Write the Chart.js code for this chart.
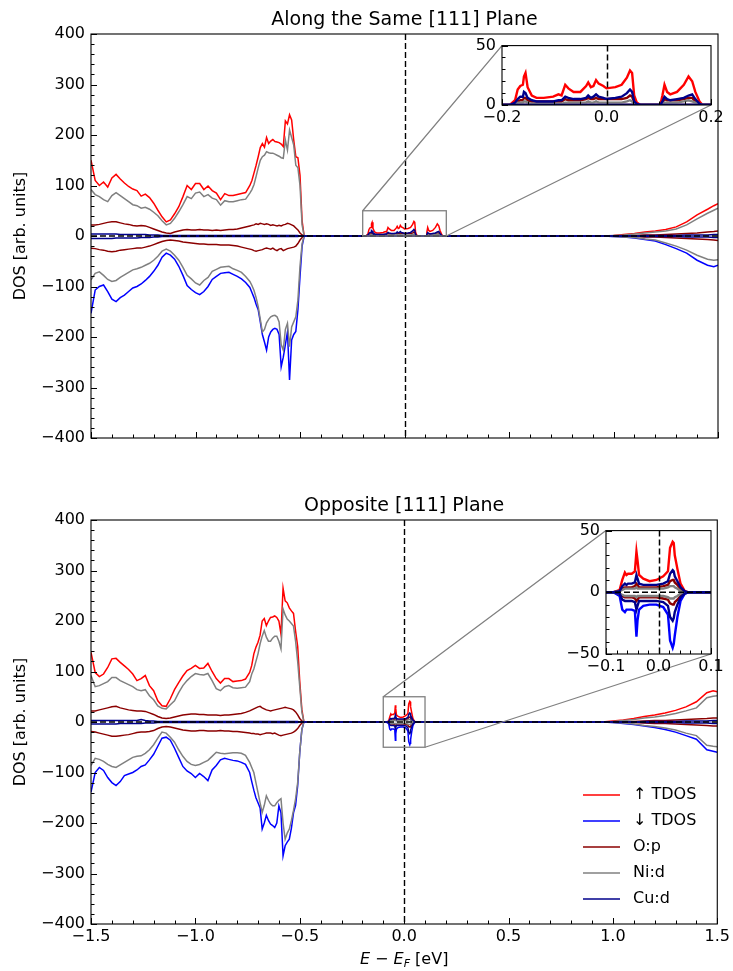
<!DOCTYPE html>
<html>
<head>
<meta charset="utf-8">
<title>DOS</title>
<script src="https://cdn.jsdelivr.net/npm/chart.js"></script>
<style>
  body { margin: 0; background: #fff; }
  #wrap { position: relative; width: 733px; height: 971px; overflow: hidden; }
  #wrap canvas { position: absolute; }
</style>
</head>
<body>
<div id="wrap">
  <canvas id="sameMain" width="733" height="487" style="left:0px;top:0px;z-index:1"></canvas>
  <canvas id="oppMain" width="733" height="485" style="left:0px;top:486px;z-index:1"></canvas>
  <canvas id="sameInset" width="283" height="120" style="left:450px;top:30px;z-index:2"></canvas>
  <canvas id="oppInset" width="183" height="170" style="left:550px;top:515px;z-index:2"></canvas>
</div>
<script>
const FONT = 'DejaVu Sans';
const RED = '#ff0000', BLUE = '#0000ff', OP = '#8b0000', NI = '#808080', CU = '#00008b';

// energy grids (eV)
const eValence = [
  -1.50, -1.48, -1.46, -1.44, -1.42, -1.40, -1.38, -1.36, -1.34, -1.32,
  -1.30, -1.28, -1.26, -1.24, -1.22, -1.20, -1.18, -1.16, -1.14, -1.12,
  -1.10, -1.08, -1.06, -1.04, -1.02, -1.00, -0.98, -0.96, -0.94, -0.92,
  -0.90, -0.88, -0.86, -0.84, -0.82, -0.80, -0.78, -0.76, -0.74, -0.73,
  -0.72, -0.71, -0.70, -0.69, -0.68, -0.67, -0.66, -0.65, -0.64, -0.63,
  -0.62, -0.61, -0.60, -0.59, -0.58, -0.57, -0.56, -0.55, -0.54, -0.53,
  -0.52, -0.51, -0.50, -0.49, -0.48
];
const eGapSame = [
  -0.190, -0.185, -0.175, -0.170, -0.165, -0.160, -0.158, -0.155, -0.151, -0.143,
  -0.134, -0.120, -0.102, -0.092, -0.086, -0.079, -0.073, -0.063, -0.050, -0.039,
  -0.035, -0.030, -0.025, -0.020, -0.015, -0.006, 0.000, 0.017, 0.029, 0.039,
  0.045, 0.049, 0.053, 0.058, 0.065, 0.103, 0.107, 0.111, 0.116, 0.122,
  0.135, 0.148, 0.157, 0.164, 0.170, 0.178, 0.184, 0.190
];
const eGapOpp = [
  -0.095, -0.086, -0.074, -0.069, -0.064, -0.061, -0.058, -0.051, -0.045, -0.042,
  -0.040, -0.037, -0.029, -0.017, -0.004, 0.009, 0.018, 0.022, 0.027, 0.029,
  0.031, 0.036, 0.042, 0.050, 0.057, 0.070
];
const eCond = [0.95, 1.00, 1.05, 1.10, 1.15, 1.20, 1.25, 1.30, 1.35, 1.40, 1.45, 1.48, 1.50];

// Along the same [111] plane: valence band
const sameTdosUp = [
  150, 110, 100, 107, 97, 115, 122, 113, 105, 98,
  93, 90, 79, 83, 76, 65, 51, 38, 28, 32,
  44, 58, 78, 100, 92, 104, 104, 92, 99, 90,
  85, 72, 84, 80, 80, 82, 84, 86, 100, 110,
  125, 140, 157, 175, 183, 176, 195, 183, 188, 191,
  187, 186, 185, 182, 177, 228, 222, 240, 230, 190,
  157, 155, 120, 30, 0
];
const sameTdosDn = [
  -153, -107, -100, -97, -110, -125, -130, -122, -117, -110,
  -103, -100, -95, -88, -80, -70, -58, -42, -34, -38,
  -46, -60, -78, -98, -106, -112, -116, -110, -100, -86,
  -80, -74, -73, -72, -76, -80, -85, -92, -102, -112,
  -122, -135, -146, -170, -195, -210, -226, -200, -190, -185,
  -183, -185, -195, -259, -240, -215, -190, -285, -206, -195,
  -189, -146, -80, -20, 0
];
const sameOpUp = [
  22, 22, 23, 25, 27, 28, 28, 26, 24, 23,
  21, 20, 21, 20, 17, 14, 11, 8, 6, 5,
  8, 10, 12, 13, 12, 12, 13, 12, 12, 11,
  12, 11, 12, 13, 13, 14, 16, 18, 20, 21,
  22, 24, 23, 25, 24, 23, 24, 23, 21, 22,
  21, 20, 21, 20, 22, 23, 25, 24, 22, 20,
  16, 12, 6, 2, 0
];
const sameOpDn = [
  -24, -25, -27, -28, -30, -31, -30, -28, -27, -26,
  -25, -24, -24, -22, -20, -17, -14, -11, -9, -8,
  -9, -10, -12, -13, -14, -15, -16, -16, -17, -17,
  -17, -18, -18, -18, -19, -20, -22, -24, -26, -27,
  -29, -30, -29, -28, -27, -25, -24, -25, -26, -24,
  -27, -29, -26, -25, -29, -27, -25, -24, -23, -22,
  -20, -15, -8, -3, 0
];
const sameNiUp = [
  92, 82, 78, 72, 68, 80, 86, 80, 74, 68,
  62, 60, 55, 57, 53, 47, 40, 30, 22, 25,
  35, 48, 62, 78, 74, 85, 87, 78, 82, 75,
  72, 61, 70, 68, 68, 70, 72, 73, 85, 92,
  102, 118, 135, 150, 157, 160, 167, 165, 164, 164,
  162, 160, 158, 155, 154, 190, 170, 210, 195, 180,
  140, 135, 100, 22, 0
];
const sameNiDn = [
  -87, -74, -71, -78, -86, -90, -88, -82, -77, -72,
  -67, -65, -62, -58, -54, -48, -40, -30, -26, -30,
  -38, -48, -62, -78, -85, -93, -97, -88, -82, -70,
  -66, -62, -61, -60, -65, -68, -72, -80, -90, -98,
  -108, -122, -140, -165, -190, -185, -172, -165, -160, -158,
  -157, -160, -170, -215, -226, -185, -173, -219, -180, -170,
  -160, -127, -60, -15, 0
];
const sameCuUp = [
  4, 4, 4, 4, 4, 4, 4, 3, 3, 3,
  3, 3, 3, 3, 2, 2, 2, 1, 1, 1,
  1, 1, 1, 1, 1, 1, 1, 1, 1, 1,
  1, 1, 1, 1, 1, 1, 1, 1, 1, 1,
  1, 1, 1, 1, 1, 1, 1, 1, 1, 1,
  1, 1, 1, 1, 1, 1, 1, 1, 1, 1,
  1, 1, 0, 0, 0
];
const sameCuDn = [
  -5, -5, -5, -5, -5, -5, -4, -4, -4, -4,
  -4, -4, -3, -3, -3, -2, -2, -1, -1, -1,
  -1, -1, -1, -1, -1, -1, -1, -1, -1, -1,
  -1, -1, -1, -1, -1, -1, -1, -1, -1, -1,
  -1, -1, -1, -1, -1, -1, -1, -1, -1, -1,
  -1, -1, -1, -1, -1, -1, -1, -1, -1, -1,
  -1, -1, 0, 0, 0
];
// in-gap states (spin up only)
const sameGapTdos = [
  0, 0, 4, 13, 16, 17, 24, 27, 15, 8,
  6, 6, 7, 9, 8, 17, 14, 11, 11, 16,
  19, 15, 16, 21, 18, 16, 14, 15, 17, 23,
  29, 27, 8, 2, 0, 0, 8, 17, 11, 9,
  11, 17, 24, 20, 11, 3, 0, 0
];
const sameGapOp = [
  0, 0, 1, 3, 4, 4, 6, 6, 4, 3,
  3, 3, 3, 3, 3, 5, 4, 4, 4, 5,
  6, 5, 5, 6, 5, 5, 5, 5, 5, 6,
  8, 7, 2, 0, 0, 0, 2, 5, 4, 4,
  4, 5, 6, 6, 3, 1, 0, 0
];
const sameGapNi = [
  0, 0, 1, 2, 2, 2, 3, 3, 2, 1,
  1, 1, 1, 1, 1, 2, 2, 2, 2, 2,
  3, 2, 2, 3, 2, 2, 2, 2, 2, 3,
  4, 3, 1, 0, 0, 0, 1, 2, 2, 2,
  2, 3, 4, 3, 2, 1, 0, 0
];
const sameGapCu = [
  0, 0, 2, 5, 7, 7, 11, 10, 6, 4,
  3, 3, 3, 4, 4, 7, 6, 5, 5, 6,
  8, 6, 7, 9, 7, 6, 5, 6, 7, 10,
  13, 11, 3, 1, 0, 0, 3, 7, 5, 4,
  5, 6, 8, 9, 5, 1, 0, 0
];
// conduction band edge
const sameCondTdosUp = [0, 1, 3, 5, 8, 10, 13, 18, 28, 42, 53, 60, 64];
const sameCondTdosDn = [0, -1, -2, -4, -7, -10, -17, -25, -34, -48, -58, -61, -58];
const sameCondOpUp = [0, 0, 1, 1, 2, 2, 3, 4, 5, 6, 8, 9, 10];
const sameCondOpDn = [0, 0, -1, -1, -2, -2, -3, -4, -5, -6, -7, -8, -9];
const sameCondNiUp = [0, 1, 2, 4, 6, 8, 10, 14, 22, 34, 45, 51, 55];
const sameCondNiDn = [0, -1, -2, -3, -6, -8, -14, -20, -28, -38, -46, -48, -47];
const sameCondCuUp = [0, 0, 0, 0, 1, 1, 1, 1, 2, 2, 2, 3, 3];
const sameCondCuDn = [0, 0, 0, 0, -1, -1, -1, -1, -2, -2, -2, -3, -3];

// Opposite [111] plane: valence band
const oppTdosUp = [
  138, 98, 90, 95, 108, 125, 126, 118, 111, 104,
  95, 82, 86, 92, 72, 62, 42, 32, 31, 46,
  64, 78, 91, 102, 106, 112, 106, 107, 116, 100,
  86, 77, 86, 86, 80, 81, 82, 85, 98, 112,
  135, 148, 158, 172, 200, 205, 191, 200, 207, 208,
  210, 207, 200, 174, 265, 240, 236, 226, 220, 215,
  180, 150, 80, 25, 0
];
const oppTdosDn = [
  -139, -100, -90, -96, -110, -120, -126, -118, -106, -103,
  -100, -95, -88, -85, -75, -64, -48, -32, -30, -36,
  -52, -70, -88, -97, -102, -110, -102, -108, -116, -95,
  -86, -75, -72, -74, -76, -77, -80, -84, -100, -118,
  -135, -150, -160, -170, -212, -200, -185, -195, -202, -205,
  -209, -200, -166, -180, -265, -245, -238, -232, -210, -180,
  -165, -126, -60, -15, 0
];
const oppOpUp = [
  22, 22, 24, 26, 28, 30, 31, 28, 26, 24,
  23, 22, 22, 21, 18, 15, 11, 8, 7, 8,
  10, 12, 14, 15, 16, 16, 15, 15, 14, 14,
  14, 13, 14, 14, 15, 16, 17, 19, 22, 24,
  26, 28, 30, 31, 28, 26, 24, 23, 22, 23,
  24, 25, 26, 27, 28, 29, 28, 27, 26, 24,
  20, 14, 7, 2, 0
];
const oppOpDn = [
  -19, -20, -22, -24, -26, -28, -28, -27, -26, -25,
  -23, -21, -20, -20, -19, -17, -13, -10, -9, -10,
  -12, -14, -16, -17, -18, -18, -17, -17, -18, -18,
  -18, -17, -18, -18, -19, -19, -20, -21, -22, -23,
  -23, -24, -24, -25, -24, -23, -22, -22, -22, -23,
  -22, -24, -26, -27, -26, -25, -24, -23, -22, -20,
  -17, -13, -7, -2, 0
];
const oppNiUp = [
  92, 70, 72, 76, 80, 88, 88, 82, 78, 74,
  70, 64, 62, 64, 52, 44, 32, 27, 26, 34,
  42, 58, 72, 82, 90, 96, 94, 93, 96, 82,
  66, 62, 70, 72, 68, 67, 68, 69, 80, 95,
  105, 120, 135, 155, 170, 181, 168, 160, 160, 166,
  170, 170, 160, 145, 224, 212, 204, 200, 195, 190,
  160, 120, 70, 20, 0
];
const oppNiDn = [
  -86, -72, -74, -78, -84, -88, -90, -85, -80, -75,
  -70, -68, -67, -62, -55, -45, -32, -20, -22, -30,
  -40, -55, -68, -78, -84, -86, -84, -80, -76, -68,
  -60, -62, -63, -62, -61, -61, -62, -66, -80, -90,
  -100, -120, -140, -160, -179, -165, -146, -155, -162, -166,
  -166, -160, -155, -152, -200, -232, -220, -212, -195, -175,
  -152, -120, -60, -15, 0
];
const oppCuUp = [
  3, 3, 3, 3, 3, 3, 3, 3, 3, 3,
  3, 3, 5, 3, 2, 2, 1, 1, 1, 1,
  1, 1, 1, 1, 1, 1, 1, 1, 1, 1,
  1, 1, 1, 1, 1, 1, 1, 1, 1, 1,
  1, 1, 1, 1, 1, 1, 1, 1, 1, 1,
  1, 1, 1, 1, 1, 1, 1, 1, 1, 1,
  1, 1, 0, 0, 0
];
const oppCuDn = [
  -4, -4, -4, -4, -4, -4, -4, -3, -3, -3,
  -3, -3, -3, -2, -2, -2, -1, -1, -1, -1,
  -1, -1, -1, -1, -1, -1, -1, -1, -1, -1,
  -1, -1, -1, -1, -1, -1, -1, -1, -1, -1,
  -1, -1, -1, -1, -1, -1, -1, -1, -1, -1,
  -1, -1, -1, -1, -1, -1, -1, -1, -1, -1,
  -1, -1, 0, 0, 0
];
// in-gap states, both spins
const oppGapTdosUp = [0, 0, 2, 10, 16, 14, 15, 15, 17, 33, 26, 14, 11, 9, 10, 13, 17, 36, 41, 40, 30, 19, 7, 1, 0, 0];
const oppGapTdosDn = [0, 0, -3, -14, -16, -14, -14, -14, -15, -36, -23, -14, -11, -10, -10, -12, -18, -39, -45, -42, -35, -20, -7, -1, 0, 0];
const oppGapOpUp = [0, 0, 1, 3, 4, 4, 4, 4, 5, 7, 6, 4, 4, 4, 4, 5, 6, 9, 10, 10, 8, 6, 3, 0, 0, 0];
const oppGapOpDn = [0, 0, -1, -3, -4, -4, -4, -4, -5, -7, -6, -4, -4, -4, -4, -5, -6, -9, -10, -10, -8, -6, -3, 0, 0, 0];
const oppGapNiUp = [0, 0, 1, 2, 3, 3, 3, 3, 3, 4, 3, 3, 3, 3, 3, 3, 4, 5, 5, 5, 4, 3, 1, 0, 0, 0];
const oppGapNiDn = [0, 0, -1, -2, -3, -3, -3, -3, -3, -4, -3, -3, -3, -3, -3, -3, -4, -5, -5, -5, -4, -3, -1, 0, 0, 0];
const oppGapCuUp = [0, 0, 1, 5, 7, 6, 7, 7, 8, 14, 11, 7, 6, 6, 6, 7, 9, 15, 18, 17, 13, 9, 4, 1, 0, 0];
const oppGapCuDn = [0, 0, -1, -6, -7, -7, -7, -7, -8, -14, -11, -7, -7, -7, -7, -8, -11, -20, -23, -21, -16, -10, -4, -1, 0, 0];
// conduction band edge
const oppCondTdosUp = [0, 2, 4, 7, 11, 14, 18, 23, 30, 40, 58, 62, 60];
const oppCondTdosDn = [0, -1, -3, -5, -8, -11, -15, -20, -27, -34, -55, -58, -60];
const oppCondOpUp = [0, 0, 1, 1, 2, 3, 3, 4, 5, 6, 7, 8, 8];
const oppCondOpDn = [0, 0, -1, -1, -2, -3, -3, -4, -5, -6, -7, -8, -8];
const oppCondNiUp = [0, 1, 3, 5, 8, 10, 13, 17, 22, 28, 48, 51, 52];
const oppCondNiDn = [0, -1, -2, -4, -7, -9, -12, -16, -22, -27, -46, -48, -49];
const oppCondCuUp = [0, 0, 0, 0, 1, 1, 1, 1, 2, 2, 2, 3, 3];
const oppCondCuDn = [0, 0, 0, 0, -1, -1, -1, -1, -2, -2, -2, -3, -3];

// inset windows
const sameInsetX = [-0.2, 0.2], sameInsetY = [0, 50];
const oppInsetX = [-0.1, 0.1], oppInsetY = [-50, 50];

const legendLabels = ['\u2191 TDOS', '\u2193 TDOS', 'O:p', 'Ni:d', 'Cu:d'];
const legendColors = [RED, BLUE, OP, NI, CU];

function pts(e, v) {
  return e.map((x, i) => ({ x: x, y: v[i] }));
}

const sameCurves = [
  { color: RED, data: [...pts(eValence, sameTdosUp), ...pts(eGapSame, sameGapTdos), ...pts(eCond, sameCondTdosUp)] },
  { color: BLUE, data: [...pts(eValence, sameTdosDn), ...pts(eCond, sameCondTdosDn)] },
  { color: OP, data: [...pts(eValence, sameOpUp), ...pts(eGapSame, sameGapOp), ...pts(eCond, sameCondOpUp)] },
  { color: OP, data: [...pts(eValence, sameOpDn), ...pts(eCond, sameCondOpDn)] },
  { color: NI, data: [...pts(eValence, sameNiUp), ...pts(eGapSame, sameGapNi), ...pts(eCond, sameCondNiUp)] },
  { color: NI, data: [...pts(eValence, sameNiDn), ...pts(eCond, sameCondNiDn)] },
  { color: CU, data: [...pts(eValence, sameCuUp), ...pts(eGapSame, sameGapCu), ...pts(eCond, sameCondCuUp)] },
  { color: CU, data: [...pts(eValence, sameCuDn), ...pts(eCond, sameCondCuDn)] }
];

const oppCurves = [
  { color: RED, data: [...pts(eValence, oppTdosUp), ...pts(eGapOpp, oppGapTdosUp), ...pts(eCond, oppCondTdosUp)] },
  { color: BLUE, data: [...pts(eValence, oppTdosDn), ...pts(eGapOpp, oppGapTdosDn), ...pts(eCond, oppCondTdosDn)] },
  { color: OP, data: [...pts(eValence, oppOpUp), ...pts(eGapOpp, oppGapOpUp), ...pts(eCond, oppCondOpUp)] },
  { color: OP, data: [...pts(eValence, oppOpDn), ...pts(eGapOpp, oppGapOpDn), ...pts(eCond, oppCondOpDn)] },
  { color: NI, data: [...pts(eValence, oppNiUp), ...pts(eGapOpp, oppGapNiUp), ...pts(eCond, oppCondNiUp)] },
  { color: NI, data: [...pts(eValence, oppNiDn), ...pts(eGapOpp, oppGapNiDn), ...pts(eCond, oppCondNiDn)] },
  { color: CU, data: [...pts(eValence, oppCuUp), ...pts(eGapOpp, oppGapCuUp), ...pts(eCond, oppCondCuUp)] },
  { color: CU, data: [...pts(eValence, oppCuDn), ...pts(eGapOpp, oppGapCuDn), ...pts(eCond, oppCondCuDn)] }
];

function toDatasets(curves, width) {
  // later curves sit on top, like successive plot calls
  return curves.map((c, i) => ({
    data: c.data,
    borderColor: c.color,
    borderWidth: width,
    pointRadius: 0,
    tension: 0,
    fill: false,
    order: curves.length - i
  }));
}

function minus(s) {
  return s.replace('-', '\u2212');
}
function fmt1(v) {
  if (Math.abs(v) < 1e-9) v = 0;
  return minus(v.toFixed(1));
}
function fmt0(v) {
  return minus(String(Math.round(v)));
}

function axis(min, max, step, cb, fit, pad) {
  return {
    type: 'linear',
    min: min,
    max: max,
    grid: { display: false, drawTicks: false },
    border: { display: false },
    ticks: {
      stepSize: step, autoSkip: false, maxRotation: 0, padding: pad, color: '#000',
      font: { family: FONT, size: 16 }, callback: cb
    },
    afterFit: fit
  };
}

function drawTicks(ctx, scale, a, major, minor, horizontal) {
  const n0 = Math.ceil(scale.min / minor - 1e-6);
  const n1 = Math.floor(scale.max / minor + 1e-6);
  ctx.beginPath();
  for (let k = n0; k <= n1; k++) {
    const v = k * minor;
    const r = v / major;
    const len = Math.abs(r - Math.round(r)) < 1e-6 ? 6 : 3.5;
    const p = Math.round(scale.getPixelForValue(v)) + 0.5;
    if (horizontal) {
      ctx.moveTo(p, a.bottom);
      ctx.lineTo(p, a.bottom - len);
    } else {
      ctx.moveTo(a.left, p);
      ctx.lineTo(a.left + len, p);
    }
  }
  ctx.stroke();
}

function drawXLabel(ctx, cx, y) {
  const parts = [
    { t: 'E', f: 'italic 16px ' + FONT, dy: 0 },
    { t: ' \u2212 ', f: '16px ' + FONT, dy: 0 },
    { t: 'E', f: 'italic 16px ' + FONT, dy: 0 },
    { t: 'F', f: 'italic 11px ' + FONT, dy: 3 },
    { t: ' [eV]', f: '16px ' + FONT, dy: 0 }
  ];
  let total = 0;
  parts.forEach(p => { ctx.font = p.f; p.w = ctx.measureText(p.t).width; total += p.w; });
  let x = cx - total / 2;
  ctx.textAlign = 'left';
  ctx.textBaseline = 'alphabetic';
  parts.forEach(p => { ctx.font = p.f; ctx.fillText(p.t, x, y + p.dy); x += p.w; });
}

function framePlugin(cfg) {
  return {
    id: 'frame',
    beforeDatasetsDraw(chart) {
      if (!cfg.fill) return;
      const a = chart.chartArea, ctx = chart.ctx;
      ctx.save();
      ctx.fillStyle = '#fff';
      ctx.fillRect(a.left, a.top, a.right - a.left, a.bottom - a.top);
      ctx.restore();
    },
    afterDatasetsDraw(chart) {
      const ctx = chart.ctx, a = chart.chartArea;
      const xs = chart.scales.x, ys = chart.scales.y;
      ctx.save();

      // dashed lines at the Fermi level and at zero
      ctx.strokeStyle = '#000';
      ctx.lineWidth = cfg.refWidth;
      ctx.setLineDash([6, 3]);
      ctx.beginPath();
      const x0 = Math.round(xs.getPixelForValue(0)) + 0.5;
      ctx.moveTo(x0, a.top);
      ctx.lineTo(x0, a.bottom);
      if (cfg.hline) {
        const y0 = ys.getPixelForValue(0);
        ctx.moveTo(a.left, y0);
        ctx.lineTo(a.right, y0);
      }
      ctx.stroke();
      ctx.setLineDash([]);

      // zoom box and connectors to the inset
      if (cfg.zoom) {
        const z = cfg.zoom;
        const bx0 = xs.getPixelForValue(z.x[0]), bx1 = xs.getPixelForValue(z.x[1]);
        const byTop = ys.getPixelForValue(z.y[1]), byBot = ys.getPixelForValue(z.y[0]);
        const ia = z.inset.chartArea;
        ctx.strokeStyle = '#808080';
        ctx.lineWidth = 1.3;
        ctx.strokeRect(bx0, byTop, bx1 - bx0, byBot - byTop);
        ctx.beginPath();
        ctx.moveTo(bx0, byTop);
        ctx.lineTo(ia.left + z.dx, ia.top + z.dy);
        ctx.moveTo(bx1, byBot);
        ctx.lineTo(ia.right + z.dx, ia.bottom + z.dy);
        ctx.stroke();
      }

      // frame and inward ticks
      ctx.strokeStyle = '#000';
      ctx.lineWidth = 1.1;
      ctx.strokeRect(a.left, a.top, a.right - a.left, a.bottom - a.top);
      ctx.lineWidth = 1;
      drawTicks(ctx, xs, a, cfg.ticks.xMajor, cfg.ticks.xMinor, true);
      drawTicks(ctx, ys, a, cfg.ticks.yMajor, cfg.ticks.yMinor, false);
      ctx.restore();
    },
    afterDraw(chart) {
      const ctx = chart.ctx, a = chart.chartArea;
      ctx.save();
      ctx.fillStyle = '#000';
      if (cfg.title) {
        ctx.font = '19px ' + FONT;
        ctx.textAlign = 'center';
        ctx.textBaseline = 'alphabetic';
        ctx.fillText(cfg.title, (a.left + a.right) / 2, 25);
      }
      if (cfg.ylabel) {
        ctx.save();
        ctx.translate(21, (a.top + a.bottom) / 2);
        ctx.rotate(-Math.PI / 2);
        ctx.font = '16px ' + FONT;
        ctx.textAlign = 'center';
        ctx.textBaseline = 'middle';
        ctx.fillText(cfg.ylabel, 0, 0);
        ctx.restore();
      }
      if (cfg.xlabel) {
        drawXLabel(ctx, (a.left + a.right) / 2, 478);
      }
      if (cfg.legend) {
        ctx.font = '16px ' + FONT;
        ctx.textAlign = 'left';
        ctx.textBaseline = 'middle';
        legendLabels.forEach((lab, i) => {
          const y = 309 + i * 26;
          ctx.strokeStyle = legendColors[i];
          ctx.lineWidth = 1.5;
          ctx.beginPath();
          ctx.moveTo(583, y);
          ctx.lineTo(620, y);
          ctx.stroke();
          ctx.fillText(lab, 633, y);
        });
      }
      ctx.restore();
    }
  };
}

function insetChart(id, curves, xr, yr, xStep, xMinor, canvasH, areaTop, yWidth) {
  return new Chart(document.getElementById(id), {
    type: 'line',
    data: { datasets: toDatasets(curves, 2.4) },
    options: {
      responsive: false, animation: false, events: [], devicePixelRatio: 1,
      layout: { padding: { left: 0, top: areaTop, right: 22, bottom: 0 } },
      plugins: { legend: { display: false }, tooltip: { enabled: false } },
      scales: {
        x: axis(xr[0], xr[1], xStep, fmt1, s => { s.height = canvasH.x; }, 3),
        y: axis(yr[0], yr[1], 50, fmt0, s => { s.width = yWidth; }, 6)
      }
    },
    plugins: [framePlugin({
      fill: true, refWidth: 1.5, hline: yr[0] < 0,
      ticks: { xMajor: xStep, xMinor: xMinor, yMajor: 50, yMinor: 10 }
    })]
  });
}

function mainChart(id, curves, cfg) {
  return new Chart(document.getElementById(id), {
    type: 'line',
    data: { datasets: toDatasets(curves, 1.5) },
    options: {
      responsive: false, animation: false, events: [], devicePixelRatio: 1,
      layout: { padding: { left: 0, top: 34, right: 15, bottom: 0 } },
      plugins: { legend: { display: false }, tooltip: { enabled: false } },
      scales: {
        x: axis(-1.5, 1.5, 0.5, cfg.xlabel ? fmt1 : () => '', s => { s.height = cfg.axisH; }, 3),
        y: axis(-400, 400, 100, fmt0, s => { s.width = 91; }, 6)
      }
    },
    plugins: [framePlugin(Object.assign({
      refWidth: 1.4, hline: true,
      ticks: { xMajor: 0.5, xMinor: 0.1, yMajor: 100, yMinor: 20 },
      ylabel: 'DOS [arb. units]'
    }, cfg))]
  });
}

const sameInset = insetChart('sameInset', sameCurves, sameInsetX, sameInsetY, 0.2, 0.05, { x: 45 }, 12, 52);
const oppInset = insetChart('oppInset', oppCurves, oppInsetX, oppInsetY, 0.1, 0.02, { x: 31 }, 13, 56);

mainChart('sameMain', sameCurves, {
  title: 'Along the Same [111] Plane',
  axisH: 487 - 438,
  zoom: { x: sameInsetX, y: sameInsetY, inset: sameInset, dx: 450, dy: 30 }
});
mainChart('oppMain', oppCurves, {
  title: 'Opposite [111] Plane',
  axisH: 485 - 438,
  xlabel: true,
  legend: true,
  zoom: { x: oppInsetX, y: oppInsetY, inset: oppInset, dx: 550, dy: 515 - 486 }
});
</script>
</body>
</html>
